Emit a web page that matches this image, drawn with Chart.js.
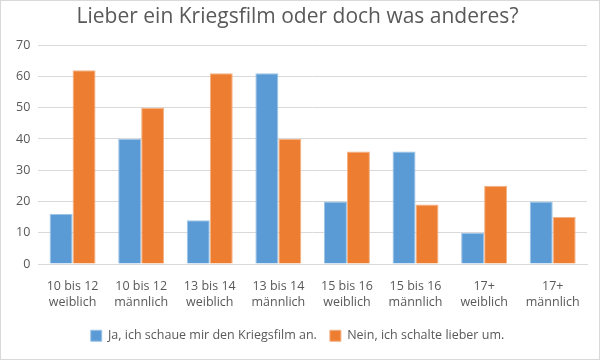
<!DOCTYPE html>
<html><head><meta charset="utf-8">
<script src="https://cdn.jsdelivr.net/npm/chart.js@4/dist/chart.umd.min.js"></script>
<style>
html,body{margin:0;padding:0;background:#fff;}
#wrap{position:absolute;left:0;top:0;width:598px;height:358px;border:1px solid #d9d9d9;}
</style></head>
<body><div id="wrap"><canvas id="c" width="598" height="358"></canvas></div>
<script>
const categories = [["10 bis 12","weiblich"],["10 bis 12","männlich"],["13 bis 14","weiblich"],["13 bis 14","männlich"],["15 bis 16","weiblich"],["15 bis 16","männlich"],["17+","weiblich"],["17+","männlich"]];
const seriesJa = [16, 40, 14, 61, 20, 36, 10, 20];
const seriesNein = [62, 50, 61, 40, 36, 19, 25, 15];
const seriesNames = ["Ja, ich schaue mir den Kriegsfilm an.", "Nein, ich schalte lieber um."];
const titleText = "Lieber ein Kriegsfilm oder doch was anderes?";

const font = "'Open Sans', 'Liberation Sans', sans-serif";
new Chart(document.getElementById('c'), {
  type: 'bar',
  data: {
    labels: categories,
    datasets: [
      {label: seriesNames[0], data: seriesJa, backgroundColor: '#5b9bd5', borderColor: '#9dc3e6', borderWidth: 1, barPercentage: 1, categoryPercentage: 0.67},
      {label: seriesNames[1], data: seriesNein, backgroundColor: '#ed7d31', borderColor: '#f4b183', borderWidth: 1, barPercentage: 1, categoryPercentage: 0.67}
    ]
  },
  options: {
    responsive: false,
    animation: false,
    layout: {padding: {left: 7, right: 12, top: 0, bottom: 7}},
    plugins: {
      title: {display: true, text: titleText, color: '#595959', font: {family: font, size: 21, weight: 'normal'}, padding: {top: 3, bottom: 16}},
      legend: {position: 'bottom', labels: {color: '#595959', font: {family: font, size: 12.5}, boxWidth: 11, boxHeight: 11, padding: 13}},
      tooltip: {enabled: false}
    },
    scales: {
      x: {
        grid: {display: false},
        border: {color: '#d9d9d9'},
        ticks: {color: '#595959', font: {family: font, size: 12.5, lineHeight: 1.3}, maxRotation: 0, autoSkip: false, padding: 6}
      },
      y: {
        min: 0, max: 70,
        ticks: {stepSize: 10, color: '#595959', font: {family: font, size: 12.5}, padding: 8},
        grid: {color: '#d9d9d9', drawTicks: false},
        border: {display: false}
      }
    }
  }
});
</script></body></html>
